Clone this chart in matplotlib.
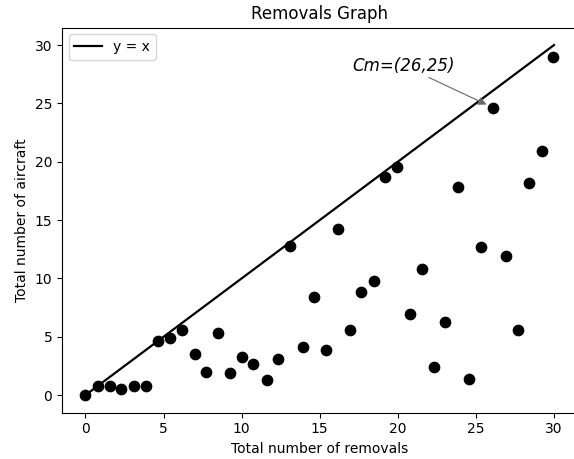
import numpy as np
import matplotlib.pyplot as plt

# removals (x) vs aircraft (y)
removals = [0.0, 0.8, 1.6, 2.3, 3.1, 3.85, 4.65, 5.4, 6.2, 7.0,
            7.7, 8.5, 9.25, 10.05, 10.75, 11.6, 12.3, 13.07, 13.9, 14.65,
            15.4, 16.2, 16.95, 17.65, 18.45, 19.2, 19.97, 20.77, 21.52, 22.3,
            23.03, 23.84, 24.56, 25.35, 26.1, 26.9, 27.67, 28.4, 29.2, 29.95]
aircraft = [0.0, 0.8, 0.8, 0.5, 0.8, 0.8, 4.6, 4.9, 5.6, 3.5,
            2.0, 5.3, 1.9, 3.3, 2.7, 1.3, 3.1, 12.75, 4.1, 8.4,
            3.85, 14.2, 5.6, 8.8, 9.8, 18.65, 19.55, 6.97, 10.8, 2.4,
            6.25, 17.85, 1.34, 12.7, 24.6, 11.96, 5.54, 18.2, 20.96, 28.96]
line_x = [0, 30]
cm_point = (26.0, 24.7)
cm_label = "Cm=(26,25)"

fig = plt.figure(figsize=(5.74, 4.59), dpi=100)
ax = fig.add_axes([0.108, 0.101, 0.898, 0.839])

ax.plot(line_x, line_x, color="black", lw=1.6, label="y = x")
ax.scatter(removals, aircraft, color="black", s=55, zorder=3)
ax.annotate(cm_label, xy=cm_point, xytext=(17.1, 27.8),
            fontsize=12, style="italic",
            arrowprops=dict(arrowstyle="-|>", color="dimgray", lw=0.8,
                            shrinkA=0, shrinkB=4))

ax.set_title("Removals Graph", fontsize=12)
ax.set_xlabel("Total number of removals")
ax.set_ylabel("Total number of aircraft")
ax.set_xticks([0, 5, 10, 15, 20, 25, 30])
ax.set_yticks([0, 5, 10, 15, 20, 25, 30])
ax.set_xlim(-1.5, 31.5)
ax.set_ylim(-1.5, 31.5)
ax.legend(loc="upper left")

fig.savefig("out.png", dpi=100)
